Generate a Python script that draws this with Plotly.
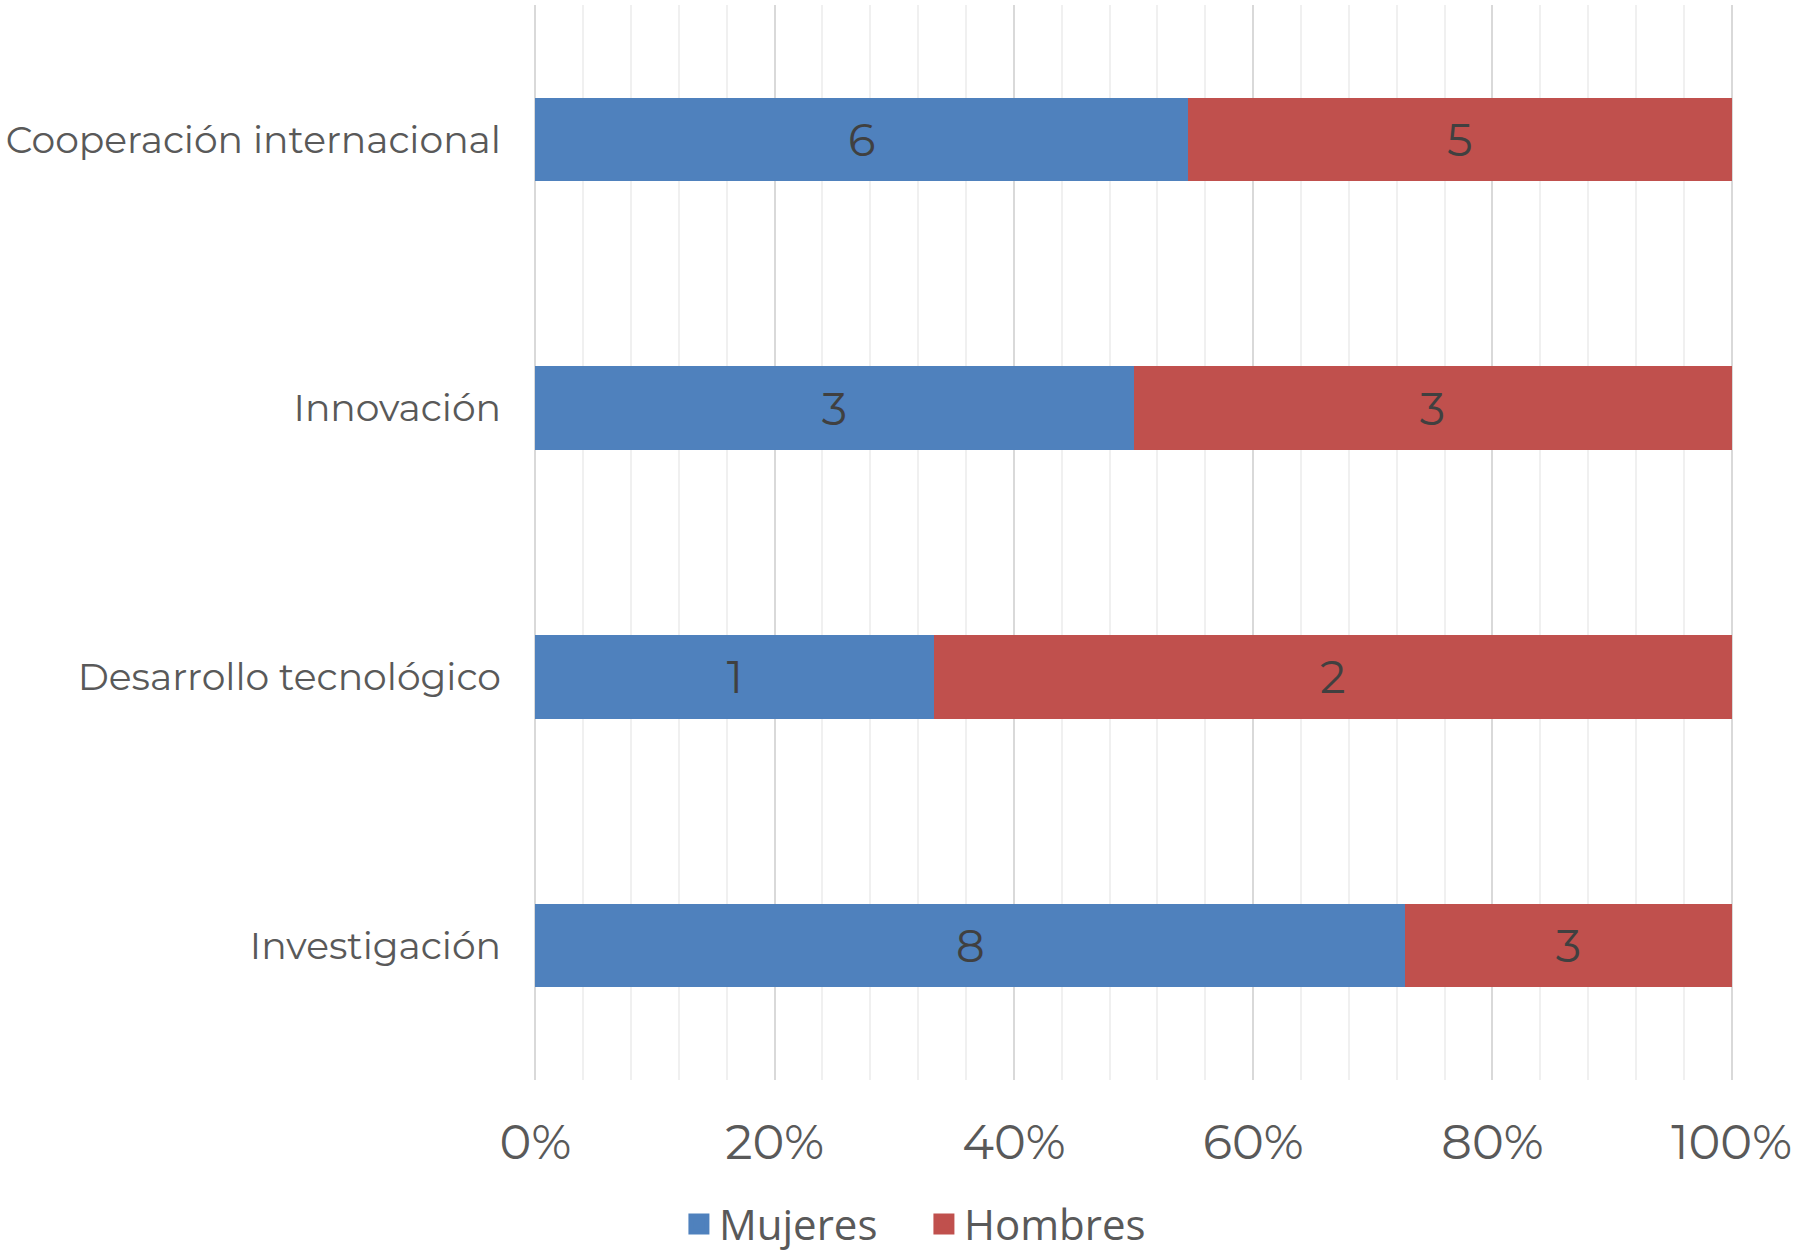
import plotly.graph_objects as go

categories = ["Investigación", "Desarrollo tecnológico", "Innovación", "Cooperación internacional"]
mujeres = [8, 1, 3, 6]
hombres = [3, 2, 3, 5]
tick_vals = [0, 20, 40, 60, 80, 100]
tick_text = ["0%", "20%", "40%", "60%", "80%", "100%"]
series_names = ["Mujeres", "Hombres"]
series_colors = ["#4F81BD", "#C0504D"]

label_font = dict(family="Montserrat, Lato, Open Sans, sans-serif", size=45, color="#404040")

fig = go.Figure()
for name, vals, col in zip(series_names, [mujeres, hombres], series_colors):
    fig.add_trace(go.Bar(
        y=categories, x=vals, name=name, orientation="h",
        marker=dict(color=col, line=dict(width=0)),
        text=[str(v) for v in vals], texttemplate="%{text}",
        textposition="inside", insidetextanchor="middle", textangle=0,
        textfont=label_font, showlegend=False,
    ))

# legend entries with larger square swatches
for name, col in zip(series_names, series_colors):
    fig.add_trace(go.Scatter(
        x=[None], y=[None], mode="markers", name=name,
        marker=dict(symbol="square", size=20, color=col, line=dict(width=10, color=col)),
        showlegend=True,
    ))

fig.update_layout(
    barmode="stack", barnorm="percent", bargap=0.69,
    width=1799, height=1253,
    margin=dict(l=533, r=65, t=5, b=173, autoexpand=False),
    paper_bgcolor="white", plot_bgcolor="white",
    showlegend=True,
    legend=dict(
        orientation="h", x=0.3255, xanchor="center", y=-0.1025, yanchor="top",
        font=dict(family="Open Sans, sans-serif", size=42, color="#595959"),
        itemsizing="trace", traceorder="normal", itemwidth=30,
        entrywidth=200, entrywidthmode="pixels",
    ),
    xaxis=dict(
        range=[-0.2, 100.2], tickvals=tick_vals, ticktext=tick_text,
        showgrid=True, gridcolor="#D9D9D9", gridwidth=2,
        minor=dict(dtick=4, showgrid=True, gridcolor="#F0F0F0", gridwidth=2),
        zeroline=False, showline=False, automargin=False,
        tickfont=dict(family="Montserrat, Lato, Open Sans, sans-serif", size=48, color="#595959"),
        ticklabelstandoff=30,
        fixedrange=True,
    ),
    yaxis=dict(
        range=[-0.5, 3.5], showgrid=False, zeroline=False, showline=False, automargin=False,
        tickfont=dict(family="Montserrat, Lato, Open Sans, sans-serif", size=37.7, color="#595959"),
        ticklabelstandoff=31,
        fixedrange=True,
    ),
)

fig.write_html("out.html", config={"displayModeBar": False},
               post_script="document.body.style.margin='0';")
